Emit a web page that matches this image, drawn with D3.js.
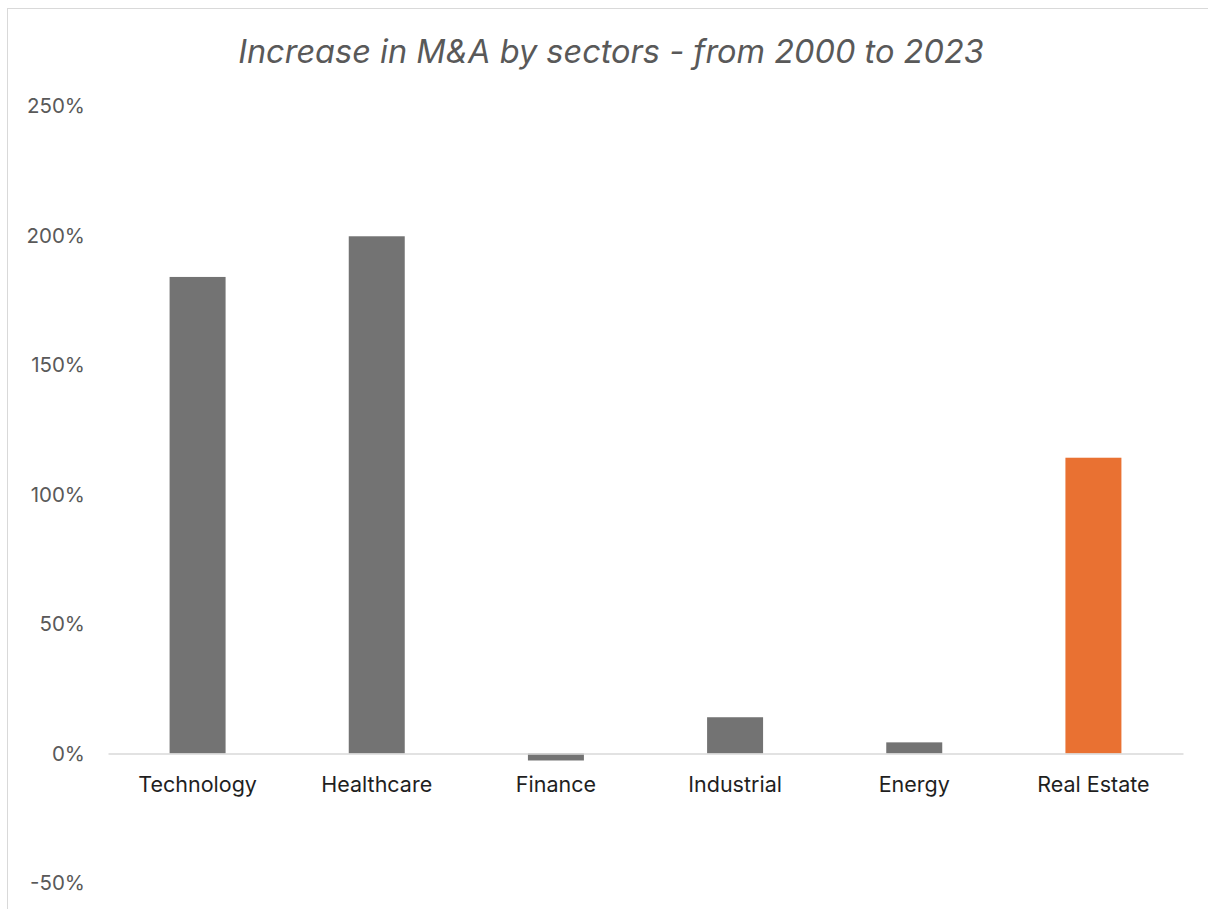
<!DOCTYPE html>
<html>
<head>
<meta charset="utf-8">
<script src="https://cdn.jsdelivr.net/npm/d3@7"></script>
<style>
  html, body { margin: 0; padding: 0; background: #fff; }
  svg { display: block; }
</style>
</head>
<body>
<svg id="chart" width="1208" height="909"></svg>
<script>
// Sector list and percentage change in M&A activity, 2000 → 2023
const sectors = ["Technology", "Healthcare", "Finance", "Industrial", "Energy", "Real Estate"];
const increasePct = [184, 199.7, -2.7, 14, 4.3, 114.2];
const highlightSector = "Real Estate";
const yTicks = [-50, 0, 50, 100, 150, 200, 250];
const chartTitle = "Increase in M&A by sectors - from 2000 to 2023";

const svg = d3.select("#chart");
const W = 1208, H = 909;
const plot = { left: 108, right: 1183, top: 106, bottom: 883 };
const fontStack = "Inter, 'Open Sans', 'Noto Sans', sans-serif";

// chart frame
svg.append("rect")
  .attr("x", 7.5).attr("y", 8.5)
  .attr("width", W + 10).attr("height", H + 10)
  .attr("fill", "#fff")
  .attr("stroke", "#d9d9d9").attr("stroke-width", 1);

const x = d3.scaleBand()
  .domain(sectors)
  .range([plot.left, plot.right])
  .paddingInner(0.6875)
  .paddingOuter(0.34375);

const y = d3.scaleLinear()
  .domain([-50, 250])
  .range([plot.bottom, plot.top]);

// title
svg.append("text")
  .attr("x", 611).attr("y", 63)
  .attr("text-anchor", "middle")
  .attr("font-family", fontStack)
  .attr("font-style", "italic")
  .attr("font-size", 32.5)
  .attr("fill", "#595959")
  .text(chartTitle);

// y axis labels (no line, no ticks)
const yAxis = d3.axisLeft(y)
  .tickValues(yTicks)
  .tickFormat(d => d + "%")
  .tickSize(0)
  .tickPadding(0);
const yG = svg.append("g")
  .attr("transform", `translate(${plot.left - 23},0)`)
  .call(yAxis);
yG.select(".domain").remove();
yG.selectAll("text")
  .attr("font-family", fontStack)
  .attr("font-size", 20.5)
  .attr("fill", "#595959");

// bars
svg.append("g").selectAll("rect")
  .data(sectors.map((s, i) => ({ s, v: increasePct[i] })))
  .join("rect")
  .attr("x", d => x(d.s))
  .attr("width", x.bandwidth())
  .attr("y", d => y(Math.max(0, d.v)))
  .attr("height", d => Math.abs(y(d.v) - y(0)))
  .attr("fill", d => d.s === highlightSector ? "#e97132" : "#737373");

// zero baseline + category labels
const xAxis = d3.axisBottom(x).tickSize(0).tickPadding(23);
const xG = svg.append("g")
  .attr("transform", `translate(0,${y(0)})`)
  .call(xAxis);
xG.select(".domain")
  .attr("stroke", "#d9d9d9")
  .attr("stroke-width", 1.5);
xG.selectAll("text")
  .attr("font-family", fontStack)
  .attr("font-size", 21.5)
  .attr("fill", "#1f1f1f");
</script>
</body>
</html>
